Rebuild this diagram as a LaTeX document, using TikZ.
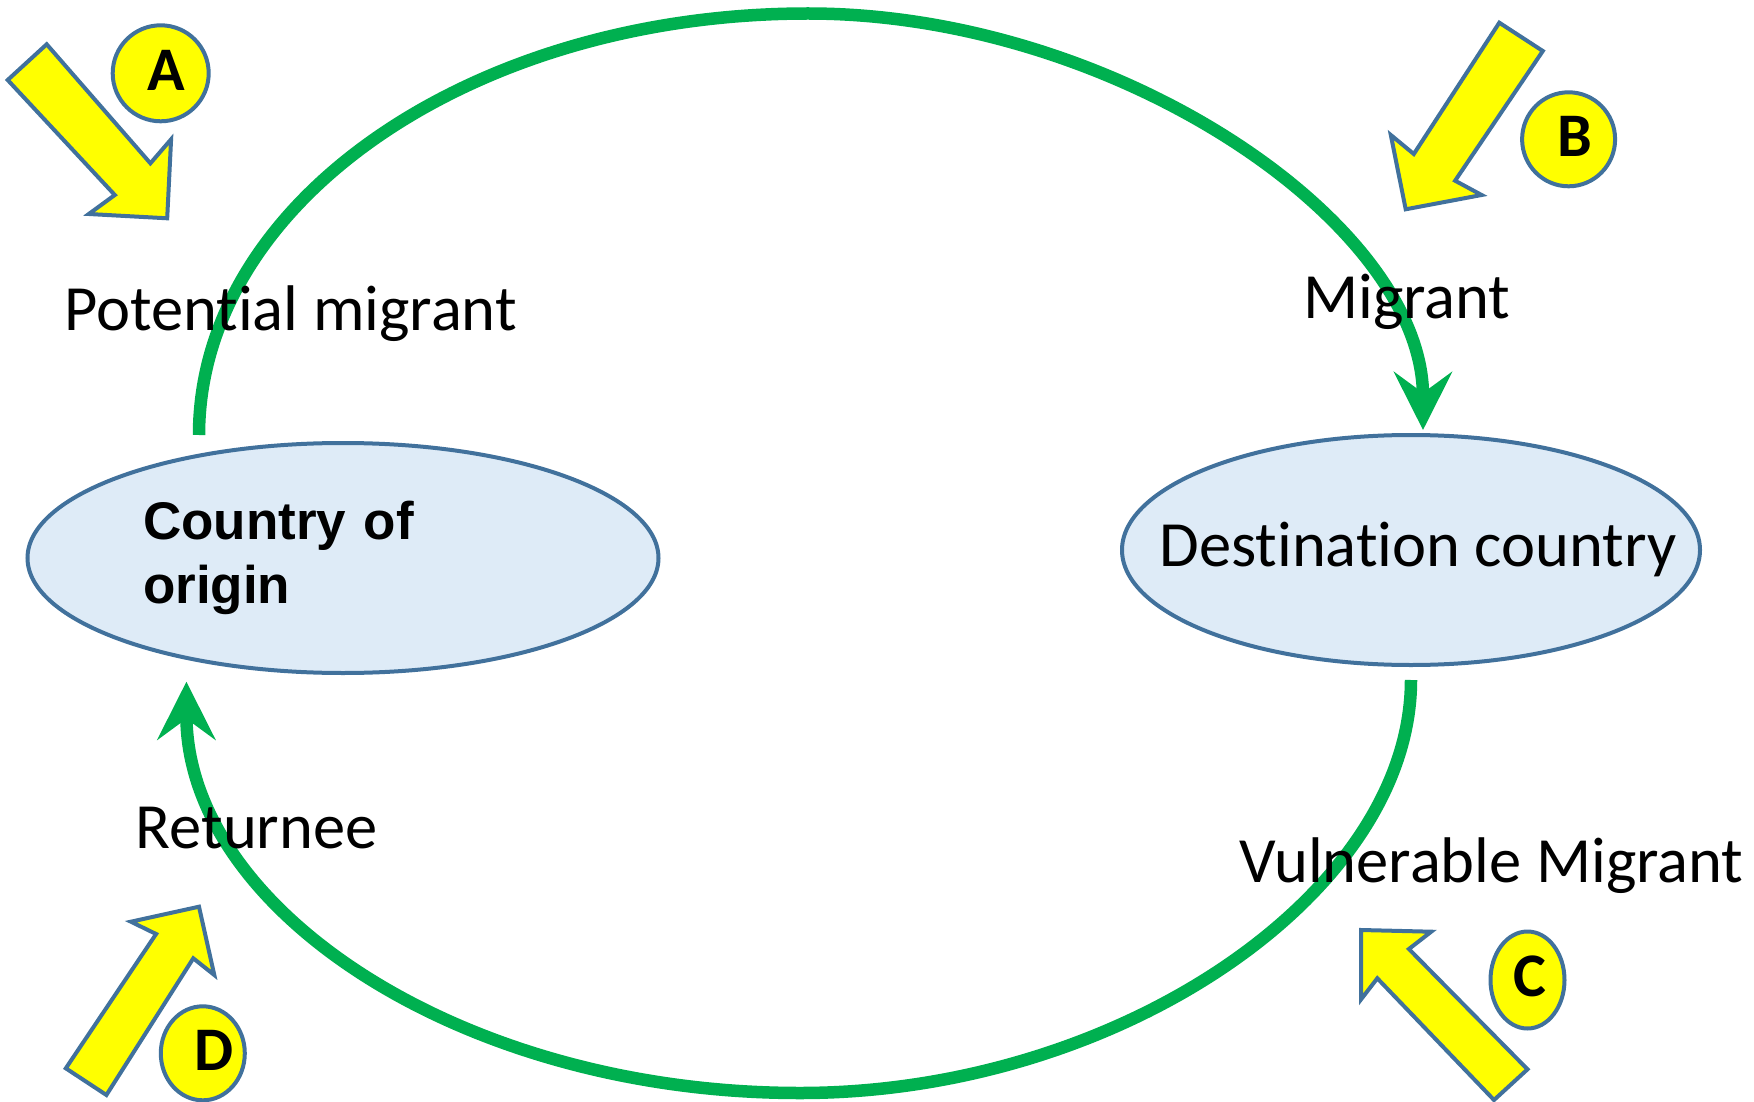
\documentclass[tikz,border=0pt]{standalone}
\usepackage{fontspec}
\setmainfont{Carlito}[RawFeature={-liga;-clig;-dlig}]
\newfontfamily\arialfont{Liberation Sans}
\usetikzlibrary{shapes.geometric,arrows.meta}
\definecolor{edgeblue}{HTML}{41719C}
\definecolor{fillblue}{HTML}{DEEBF7}
\definecolor{flowgreen}{HTML}{00B050}
\definecolor{ylw}{HTML}{FFFF00}
\tikzset{
  country/.style={ellipse, draw=edgeblue, line width=4pt, fill=fillblue, inner sep=0pt},
  badge/.style={ellipse, draw=edgeblue, line width=4pt, fill=ylw, inner sep=0pt},
  badgeletter/.style={font=\fontsize{62}{62}\selectfont\bfseries, inner sep=0pt},
  blockarrow/.style={draw=edgeblue, line width=4pt, fill=ylw, line join=miter},
  flow/.style={draw=flowgreen, line width=12.5pt, -{Stealth[length=58pt,width=58pt,inset=21pt]}},
  role/.style={font=\fontsize{64.5}{64.5}\selectfont, inner sep=0pt, anchor=base west}
}
\begin{document}
\begin{tikzpicture}[x=1pt,y=-1pt]
\useasboundingbox (0,0) rectangle (1754,1102);

% countries
\node[country, minimum width=631pt, minimum height=230pt, text width=400pt, align=left,
      font=\fontsize{53}{64}\selectfont\arialfont\bfseries] (origin) at (343,558) {Country of\\origin};
\node[country, minimum width=578pt, minimum height=230pt] (dest) at (1411,550) {};
\node[font=\fontsize{64.5}{64.5}\selectfont, inner sep=0pt] (destlabel) at (1418,550) {Destination country};

% flow connectors
\coordinate (upstart) at (199,435);
\coordinate (toparc) at (808,13.5);
\coordinate (botarc) at (800,1093);
\coordinate (retend) at (186.4,681.7);
\draw[flow] (upstart) .. controls (199,202.2) and (471.7,13.5) .. (toparc)
  .. controls (1115.5,13.5) and (1423,222.8) .. ([xshift=12pt,yshift=3pt]dest.north);
\draw[flow] ([yshift=-13pt]dest.south) .. controls (1411,893.8) and (1117.7,1093) .. (botarc)
  .. controls (461.1,1093) and (186.4,908.9) .. (retend);

% role labels
\node[role] (potential) at (64,330) {Potential migrant};
\node[role] (migrant) at (1303,318) {Migrant};
\node[role] (returnee) at (135.5,848.3) {Returnee};
\node[role] (vulnerable) at (1239,882.7) {Vulnerable Migrant};

% yellow block arrows
\draw[blockarrow] (7.7,80) -- (46.7,44.3) -- (150.4,163.3) -- (171.1,139.3) -- (167.2,218.3) -- (88.8,214) -- (114.8,195) -- cycle;
\draw[blockarrow] (1499.3,22.7) -- (1542.8,51) -- (1455.1,180.7) -- (1481.6,195) -- (1405.7,209.3) -- (1390.8,135) -- (1413.8,154) -- cycle;
\draw[blockarrow] (1361.1,930) -- (1431.2,931.7) -- (1408.9,949) -- (1527.5,1069.3) -- (1494,1100) -- (1377.3,978.3) -- (1361.1,999.3) -- cycle;
\draw[blockarrow] (65.8,1068.3) -- (106.4,1095) -- (193.3,958.3) -- (214.3,975) -- (199,906.7) -- (130.9,921.7) -- (156.1,934) -- cycle;

% badges
\node[badge, minimum width=96pt, minimum height=96pt] (badgeA) at (160.7,73.3) {};
\node[badgeletter] (letA) at (166,70) {A};
\node[badge, minimum width=93pt, minimum height=94pt] (badgeB) at (1568.6,139.3) {};
\node[badgeletter] (letB) at (1574.6,136) {B};
\node[badge, minimum width=74pt, minimum height=97pt] (badgeC) at (1527.5,980) {};
\node[badgeletter] (letC) at (1529.4,976) {C};
\node[badge, minimum width=84pt, minimum height=94pt] (badgeD) at (202.8,1053.3) {};
\node[badgeletter] (letD) at (214,1050) {D};
\end{tikzpicture}
\end{document}
